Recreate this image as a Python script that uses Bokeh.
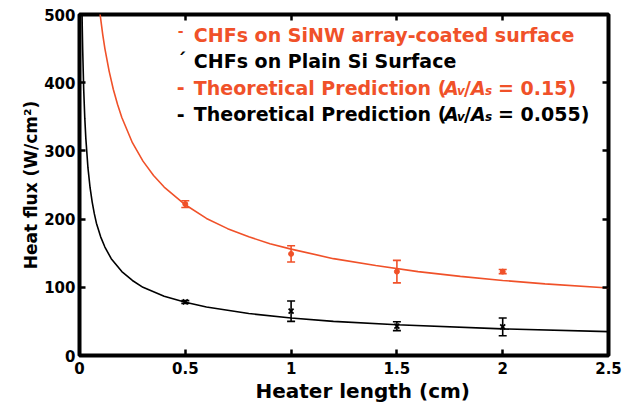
from bokeh.plotting import figure
from bokeh.models import (ColumnDataSource, Whisker, TeeHead, LinearAxis, FixedTicker,
                          NumeralTickFormatter, Label, Range1d, Title)
from bokeh.embed import file_html
from bokeh.resources import INLINE

# ---------------- data ----------------
heater_length = [0.5, 1.0, 1.5, 2.0]
chf_sinw = [222, 149, 123, 123]
chf_sinw_err = [5, 12, 16.5, 3]
chf_plain = [78.5, 65, 43, 42]
chf_plain_err = [2, 15, 6.5, 13]

pred_sinw_x = [0.09, 0.097, 0.11, 0.12, 0.14, 0.16, 0.18, 0.2, 0.25, 0.3, 0.35, 0.4, 0.5,
               0.6, 0.7, 0.8, 0.9, 1.0, 1.2, 1.4, 1.6, 1.8, 2.0, 2.2, 2.5]
pred_sinw_y = [520, 501, 470, 450, 417, 390, 368, 349, 312, 285, 264, 247, 221,
               201, 186, 174, 164, 156, 142, 132, 123, 116, 110, 105, 99]
pred_plain_x = [0.011, 0.013, 0.015, 0.02, 0.025, 0.03, 0.04, 0.05, 0.06, 0.07, 0.08, 0.1,
                0.12, 0.15, 0.2, 0.25, 0.3, 0.4, 0.5, 0.6, 0.8, 1.0, 1.2, 1.5, 2.0, 2.5]
pred_plain_y = [524, 482, 449, 389, 348, 318, 275, 246, 225, 208, 194, 174,
                159, 142, 123, 110, 100, 87, 78, 71, 61.5, 55, 50, 45, 39, 35]

x_ticks = [0, 0.5, 1, 1.5, 2, 2.5]
y_ticks = [0, 100, 200, 300, 400, 500]

x_title = "Heater length (cm)"
y_title = "Heat flux (W/cm²)"
legend_labels = ["CHFs on SiNW array-coated surface", "CHFs on Plain Si Surface",
                 "Theoretical Prediction (", "Theoretical Prediction ("]
ratio_texts = ["= 0.15)", "= 0.055)"]

RED = "#F05129"
BLACK = "#000000"
FONT = "DejaVu Sans"

# ---------------- figure ----------------
p = figure(width=634, height=402, x_range=Range1d(0, 2.5), y_range=Range1d(0, 500),
           output_backend="svg", toolbar_location=None,
           min_border_left=79, min_border_right=26, min_border_top=14, min_border_bottom=46)
p.grid.visible = False
p.outline_line_color = "black"
p.outline_line_width = 4
p.background_fill_color = "white"
p.border_fill_color = "white"


def style_axis(ax, ticks, labels=True):
    ax.ticker = FixedTicker(ticks=ticks)
    ax.axis_line_color = None
    ax.major_tick_in = 6
    ax.major_tick_out = 0
    ax.major_tick_line_width = 2.5
    ax.major_tick_line_color = "black"
    ax.minor_tick_line_color = None
    ax.major_label_text_font = FONT
    ax.major_label_text_font_style = "bold"
    ax.major_label_text_color = "black"
    if labels:
        ax.major_label_text_font_size = "15px"
    else:
        ax.major_label_text_font_size = "1px"
        ax.major_label_text_color = None
        ax.major_label_standoff = 0


xa = p.xaxis[0]
style_axis(xa, x_ticks)
xa.formatter = NumeralTickFormatter(format="0.[0]")
xa.major_label_standoff = 6

ya = p.yaxis[0]
style_axis(ya, y_ticks)
ya.formatter = NumeralTickFormatter(format="0")
ya.major_label_standoff = 4
ya.axis_label = y_title
ya.axis_label_text_font = FONT
ya.axis_label_text_font_style = "bold"
ya.axis_label_text_font_size = "17px"
ya.axis_label_text_color = "black"
ya.axis_label_standoff = 0

top_ax = LinearAxis()
style_axis(top_ax, x_ticks, labels=False)
p.add_layout(top_ax, "above")
right_ax = LinearAxis()
style_axis(right_ax, y_ticks, labels=False)
p.add_layout(right_ax, "right")

# x-axis title (placed as in the reference, right of centre)
p.add_layout(Title(text=x_title, align="left", offset=176, standoff=0,
                   text_font=FONT, text_font_style="bold", text_font_size="20px",
                   text_color="black"), "below")

# ---------------- theoretical curves ----------------
p.line(pred_sinw_x, pred_sinw_y, line_color=RED, line_width=1.6)
p.line(pred_plain_x, pred_plain_y, line_color=BLACK, line_width=1.6)

# ---------------- measured CHFs with error bars ----------------
src_sinw = ColumnDataSource(dict(
    x=heater_length, y=chf_sinw,
    upper=[v + e for v, e in zip(chf_sinw, chf_sinw_err)],
    lower=[v - e for v, e in zip(chf_sinw, chf_sinw_err)]))
src_plain = ColumnDataSource(dict(
    x=heater_length, y=chf_plain,
    upper=[v + e for v, e in zip(chf_plain, chf_plain_err)],
    lower=[v - e for v, e in zip(chf_plain, chf_plain_err)]))

for src, col in ((src_sinw, RED), (src_plain, BLACK)):
    w = Whisker(base="x", upper="upper", lower="lower", source=src,
                line_color=col, line_width=1.6,
                upper_head=TeeHead(size=8, line_color=col, line_width=1.6),
                lower_head=TeeHead(size=8, line_color=col, line_width=1.6))
    w.level = "glyph"
    p.add_layout(w)

p.scatter("x", "y", source=src_sinw, marker="circle", size=5,
          fill_color=RED, line_color=RED)
p.scatter("x", "y", source=src_plain, marker="x", size=7,
          line_color=BLACK, line_width=1.8)

# ---------------- legend (manual, to allow italic subscripts) ----------------
def lab(x, y, text, color, size="19px", style="bold"):
    p.add_layout(Label(x=x, y=y, x_units="data", y_units="data", text=text,
                       text_color=color, text_font=FONT, text_font_style=style,
                       text_font_size=size, text_baseline="alphabetic",
                       text_align="left"))

tx = 0.5404
mx = 0.460
dy = 10.0
rows_y = [460.5 + dy, 421.1 + dy, 382.3 + dy, 344.3 + dy]
cols = [RED, BLACK, RED, BLACK]

# sample glyphs
lab(mx + 0.004, 466.0 + dy, "-", RED, size="14px")
lab(mx, 424.0 + dy, "ˊ", BLACK)
lab(mx, 383.9 + dy, "-", RED)
lab(mx, 344.4 + dy, "-", BLACK)

for i in range(4):
    lab(tx, rows_y[i], legend_labels[i], cols[i])

for i, rt in zip((2, 3), ratio_texts):
    yb = rows_y[i]
    ys = yb - 4.4
    c = cols[i]
    lab(1.7225, yb, "A", c, style="bold italic")
    lab(1.7839, ys, "v", c, size="12px", style="bold italic")
    lab(1.8170, yb, "/", c)
    lab(1.8501, yb, "A", c, style="bold italic")
    lab(1.9163, ys, "s", c, size="12px", style="bold italic")
    lab(1.9778, yb, rt, c)

open("out.html", "w").write(file_html(p, INLINE))
